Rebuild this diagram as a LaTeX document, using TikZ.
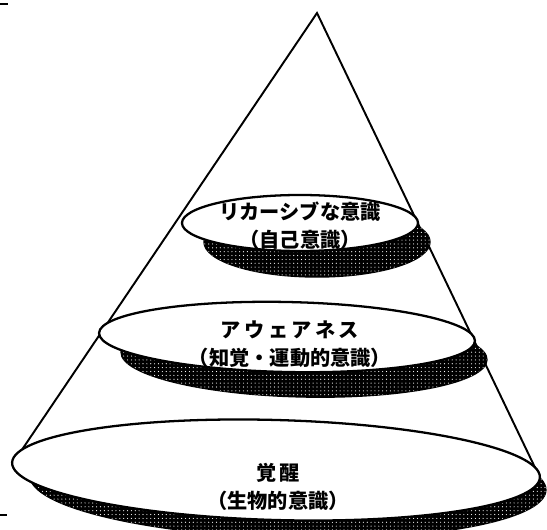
\documentclass[tikz,border=0pt]{standalone}
\usepackage{fontspec}
\newfontfamily\jpfont{Noto Sans CJK JP}
\usetikzlibrary{patterns.meta}
\tikzset{
  disc/.style={draw=black, line width=1.3pt, fill=white},
  discshadow/.style={draw=black, line width=0.8pt, fill=black,
    postaction={pattern={Dots[distance=2.2pt, radius=0.33pt]}, pattern color=white}},
  conetext/.style={align=center, inner sep=0pt,
    font=\jpfont\bfseries\fontsize{11.5}{16}\selectfont},
  coneside/.style={line width=1.1pt},
  edgemark/.style={line width=1.2pt}
}
\begin{document}
\begin{tikzpicture}[x=0.02cm, y=-0.02cm]
\useasboundingbox (0,0) rectangle (547,530);
% cone
\coordinate (apex) at (317,13);
\coordinate (baseL) at (13,463);
\coordinate (baseR) at (540,478);
\draw[coneside] (baseL) -- (apex) -- (baseR);
% marks at the left edge
\draw[edgemark] (0,4) -- (8,4);
\draw[edgemark] (0,515) -- (7,515);
% top layer
\path[discshadow] (317,242) ellipse [x radius=113, y radius=35];
\path[disc] (300,223) ellipse [x radius=118, y radius=28];
% middle layer
\path[discshadow, rotate around={-1.2:(304,356)}] (304,356) ellipse [x radius=183, y radius=41];
\path[disc, rotate around={-1.2:(287,337)}] (287,337) ellipse [x radius=188, y radius=35];
% bottom layer
\path[discshadow, rotate around={-1.6:(288,483)}] (288,483) ellipse [x radius=258, y radius=55];
\path[disc, rotate around={-1.6:(276,470)}] (276,470) ellipse [x radius=264, y radius=50];
% labels
\node[conetext] (recur) at (300,226) {リカーシブな意識\\（自己意識）};
\node[conetext] (aware) at (290,344) {ア\,ウ\,ェ\,ア\,ネ\,ス\\（知覚・運動的意識）};
\node[conetext] (arousal) at (278,487) {覚\,醒\\（生物的意識）};
\end{tikzpicture}
\end{document}
